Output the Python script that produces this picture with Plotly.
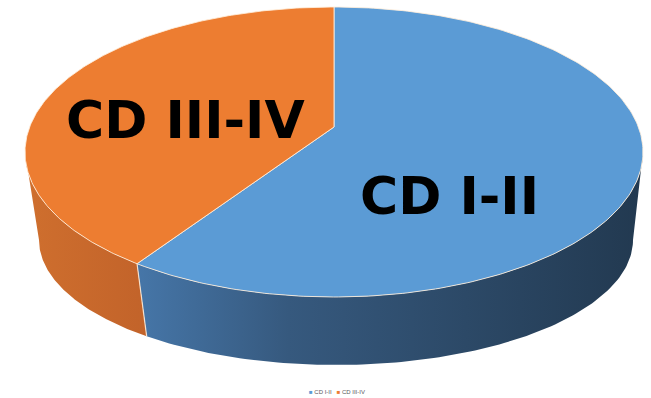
import numpy as np
import plotly.graph_objects as go

# ---- data -------------------------------------------------------------
categories = ["CD I-II", "CD III-IV"]
values = [61, 39]
top_colors = ["#5B9BD5", "#ED7D31"]
side_scales = [
    [[0, "#4676a8"], [0.3, "#36597e"], [1, "#223950"]],
    [[0, "#cf6f2e"], [1, "#c2632a"]],
]
label_pos = [(449, 196), (185, 120)]

# ---- geometry of the tilted pie (pixel units, y grows downward) -------
W, H = 651, 398
TOP = dict(cx=334, cy=152, rx=309, ry=145)
BOT = dict(cx=336, cy=240, rx=297, ry=125)
APEX = (334, 127)
EDGE = "rgba(255,238,220,0.85)"


def ellipse(e, deg):
    t = np.radians(np.asarray(deg, dtype=float))
    return e["cx"] + e["rx"] * np.sin(t), e["cy"] - e["ry"] * np.cos(t)


total = float(sum(values))
bounds = np.concatenate([[0.0], np.cumsum(values) / total * 360.0])

fig = go.Figure()

# side walls (only the front half, 90..270 degrees, is visible)
for i, name in enumerate(categories):
    a0, a1 = max(bounds[i], 90.0), min(bounds[i + 1], 270.0)
    if a1 <= a0:
        continue
    ang = np.linspace(a0, a1, 120)
    tx, ty = ellipse(TOP, ang)
    bx, by = ellipse(BOT, ang[::-1])
    fig.add_trace(go.Scatter(
        x=np.concatenate([tx, bx, tx[:1]]), y=np.concatenate([ty, by, ty[:1]]),
        mode="lines", fill="toself", line=dict(width=0),
        fillgradient=dict(type="horizontal", colorscale=side_scales[i]),
        hoverinfo="skip", showlegend=False,
    ))

# dividing edges on the side wall
for b in bounds[1:-1]:
    if 90.0 < b < 270.0:
        tx, ty = ellipse(TOP, [b])
        bx, by = ellipse(BOT, [b])
        fig.add_trace(go.Scatter(
            x=[tx[0], bx[0]], y=[ty[0], by[0]], mode="lines",
            line=dict(color=EDGE, width=1.2), hoverinfo="skip", showlegend=False,
        ))

# top face wedges
for i, name in enumerate(categories):
    ang = np.linspace(bounds[i], bounds[i + 1], 240)
    ex, ey = ellipse(TOP, ang)
    fig.add_trace(go.Scatter(
        x=np.concatenate([[APEX[0]], ex, [APEX[0]]]),
        y=np.concatenate([[APEX[1]], ey, [APEX[1]]]),
        mode="lines", fill="toself", fillcolor=top_colors[i],
        line=dict(color=EDGE, width=1), name=name,
        hovertemplate=f"{name}: {values[i]}<extra></extra>", showlegend=False,
    ))

annotations = [
    dict(x=x, y=y, xref="x", yref="y", text=name, showarrow=False,
         font=dict(family="DejaVu Sans", size=52, color="black", weight="bold"))
    for name, (x, y) in zip(categories, label_pos)
]
legend_text = "   ".join(
    f"<span style='color:{c}'>■</span> {n}" for n, c in zip(categories, top_colors)
)
annotations.append(dict(
    x=337, y=392, xref="x", yref="y", text=legend_text, showarrow=False,
    font=dict(family="Liberation Sans", size=6, color="#595959"),
))

fig.update_layout(
    width=W, height=H, margin=dict(l=0, r=0, t=0, b=0),
    paper_bgcolor="white", plot_bgcolor="white",
    xaxis=dict(range=[0, W], visible=False, fixedrange=True),
    yaxis=dict(range=[H, 0], visible=False, fixedrange=True),
    annotations=annotations, showlegend=False,
)

fig.write_html("out.html")
